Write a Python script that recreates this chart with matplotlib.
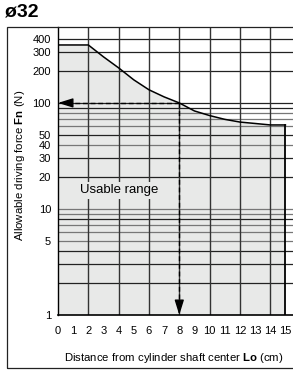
import matplotlib
matplotlib.use("Agg")
import matplotlib.pyplot as plt
from matplotlib.patches import Rectangle

plt.rcParams['font.family'] = ['Liberation Sans', 'DejaVu Sans']
plt.rcParams['mathtext.fontset'] = 'custom'
plt.rcParams['mathtext.rm'] = 'Liberation Sans'
plt.rcParams['mathtext.bf'] = 'Liberation Sans:bold'

# curve: distance (cm) -> allowable force (N)
dist = [0, 2, 3, 4, 5, 6, 7, 8, 9, 10, 11, 12, 13, 14, 15]
force = [352, 352, 272, 214, 165, 133, 114, 100, 84, 76, 70, 66, 64, 62, 62]

x_labels = list(range(16))
y_labels = [1, 5, 10, 20, 30, 40, 50, 100, 200, 300, 400]
h_grid = [2, 3, 4, 5, 6, 7, 8, 9, 10, 20, 30, 40, 50, 60, 70, 80, 90, 100, 200, 300, 400]
v_grid = [2, 4, 6, 8, 10, 12, 14]
point_x, point_y = 8, 100

W, H = 293, 371
fig = plt.figure(figsize=(W / 100, H / 100), dpi=100)
ax = fig.add_axes([58 / W, (H - 315) / H, 235 / W, 288 / H])
ax.set_yscale('log')
ax.set_xlim(0, 15.5)
ax.set_ylim(1, 520)

fill_x = dist + [15, 0]
fill_y = force + [1, 1]
ax.fill(fill_x, fill_y, color='#e8e9e8', zorder=0, lw=0)

dark = [2, 3, 4, 8, 20, 30, 50, 90, 100, 200, 300, 400]
for v in h_grid:
    ax.axhline(v, color='#222222' if v in dark else '#777777', lw=0.9, zorder=1)
for v in v_grid:
    ax.axvline(v, color='#333333', lw=1.0, zorder=1)

ax.plot(dist, force, color='black', lw=1.1, zorder=3)
ax.plot([15, 15], [1, force[-1]], color='black', lw=1.3, zorder=3)

# dashed read-off lines with arrows
ax.plot([point_x, 0.6], [point_y, point_y], color='black', lw=1.0, ls=(0, (3.5, 2)), zorder=4)
ax.plot([point_x, point_x], [point_y, 1.3], color='black', lw=1.0, ls=(0, (3.5, 2)), zorder=4)
arrow = dict(arrowstyle='-|>,head_length=0.9,head_width=0.28', color='black', lw=1.0,
             shrinkA=0, shrinkB=0)
ax.annotate('', xy=(0, point_y), xytext=(10, 0), textcoords='offset points',
            arrowprops=arrow, zorder=5, annotation_clip=False)
ax.annotate('', xy=(point_x, 1), xytext=(0, 10), textcoords='offset points',
            arrowprops=arrow, zorder=5, annotation_clip=False)

ax.text(1.45, 15, 'Usable range', fontsize=9.5, va='center', ha='left', zorder=2,
        bbox=dict(facecolor='#e8e9e8', edgecolor='none', pad=2))

ax.set_xticks(x_labels)
ax.set_xticklabels([str(v) for v in x_labels], fontsize=8)
ax.set_xticks([1, 3, 5, 7, 9, 11, 13], minor=True)
ax.tick_params(axis='x', which='major', length=0, pad=8)
ax.tick_params(axis='x', which='minor', direction='in', length=5, width=0.8, color='#333333')
ax.set_yticks(y_labels)
ax.set_yticklabels([str(v) for v in y_labels], fontsize=8)
ax.yaxis.set_minor_locator(plt.NullLocator())
ax.tick_params(axis='y', which='major', length=0, pad=5)

for s in ['top', 'right']:
    ax.spines[s].set_visible(False)
ax.spines['left'].set_linewidth(1.0)
ax.spines['bottom'].set_linewidth(1.2)

# outer frame
fig.patches.append(Rectangle((7 / W, 3 / H), 290 / W, (H - 27 - 3) / H,
                             transform=fig.transFigure, fill=False,
                             edgecolor='#222222', lw=0.9))

fig.text(5 / W, (H - 12) / H, 'ø32', fontsize=14, fontweight='bold', va='center', ha='left')
fig.text(20 / W, (H - 165) / H, r'Allowable driving force $\mathbf{Fn}$ (N)',
         rotation=90, fontsize=8.2, va='center', ha='center')
fig.text(174 / W, (H - 358) / H, r'Distance from cylinder shaft center $\mathbf{Lo}$ (cm)',
         fontsize=8.2, va='center', ha='center')

fig.savefig('out.png', dpi=100)
